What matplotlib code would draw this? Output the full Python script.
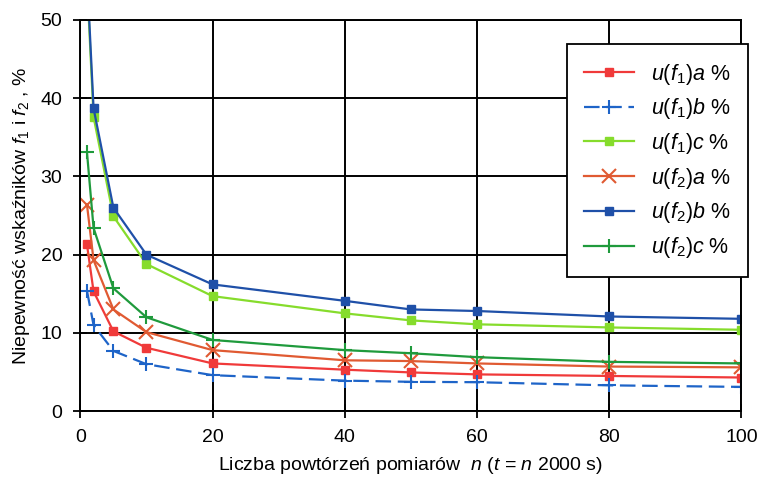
import matplotlib
matplotlib.use("Agg")
import matplotlib.pyplot as plt

plt.rcParams['font.family'] = ['Liberation Sans', 'DejaVu Sans']
plt.rcParams['mathtext.fontset'] = 'custom'
plt.rcParams['mathtext.rm'] = 'Liberation Sans'
plt.rcParams['mathtext.it'] = 'Liberation Sans:italic'

# liczba powtórzeń pomiarów
n = [1, 2, 5, 10, 20, 40, 50, 60, 80, 100]

u_f1a = [21.3, 15.3, 10.2, 8.1, 6.1, 5.3, 4.95, 4.7, 4.5, 4.3]
u_f1b = [15.4, 11.0, 7.7, 6.0, 4.6, 3.9, 3.75, 3.7, 3.3, 3.1]
u_f1c = [55.0, 37.6, 24.9, 18.8, 14.7, 12.5, 11.6, 11.1, 10.7, 10.4]
u_f2a = [26.4, 19.3, 13.0, 10.1, 7.8, 6.5, 6.4, 6.1, 5.7, 5.6]
u_f2b = [56.0, 38.7, 26.0, 20.0, 16.2, 14.1, 13.0, 12.8, 12.1, 11.8]
u_f2c = [33.1, 23.4, 15.7, 12.0, 9.1, 7.8, 7.4, 6.9, 6.3, 6.1]

labels = [r'$u(f_1)a$ %', r'$u(f_1)b$ %', r'$u(f_1)c$ %',
          r'$u(f_2)a$ %', r'$u(f_2)b$ %', r'$u(f_2)c$ %']

fig = plt.figure(figsize=(7.58, 4.86), dpi=100)
ax = fig.add_axes([0.106, 0.154, 0.872, 0.805])

ax.plot(n, u_f1a, color='#f03a3a', marker='s', ms=6, lw=1.6, label=labels[0])
ax.plot(n, u_f1b, color='#1e64c8', marker='+', ms=10, mew=1.5, lw=1.6,
        linestyle=(0, (7, 3)), label=labels[1])
ax.plot(n, u_f1c, color='#86dc2c', marker='s', ms=6, lw=1.6, label=labels[2])
ax.plot(n, u_f2a, color='#e05a32', marker='x', ms=10, mew=1.5, lw=1.6, label=labels[3])
ax.plot(n, u_f2b, color='#1f50a8', marker='s', ms=6, lw=1.6, label=labels[4])
ax.plot(n, u_f2c, color='#1f9a3c', marker='+', ms=10, mew=1.5, lw=1.6, label=labels[5])

ax.set_xlim(0, 100)
ax.set_ylim(0, 50)
ax.set_xticks([0, 20, 40, 60, 80, 100])
ax.set_yticks([0, 10, 20, 30, 40, 50])
ax.grid(True, color='black', lw=1.4)
for s in ax.spines.values():
    s.set_linewidth(1.4)
ax.tick_params(direction='inout', length=10, width=1.3, labelsize=14, pad=8)

ax.set_xlabel(r'Liczba powtórzeń pomiarów  $n$ ($t$ = $n$ 2000 s)', fontsize=14, labelpad=6)
ax.set_ylabel(r'Niepewność wskaźników $f_1$ i $f_2$ , %', fontsize=14, labelpad=6)

leg = ax.legend(loc='upper right', bbox_to_anchor=(1.026, 0.965), fontsize=15.5,
                handlelength=2.3, labelspacing=0.45, borderpad=0.8,
                fancybox=False, framealpha=1, edgecolor='black')
leg.get_frame().set_linewidth(1.3)

fig.savefig('out.png', dpi=100)
